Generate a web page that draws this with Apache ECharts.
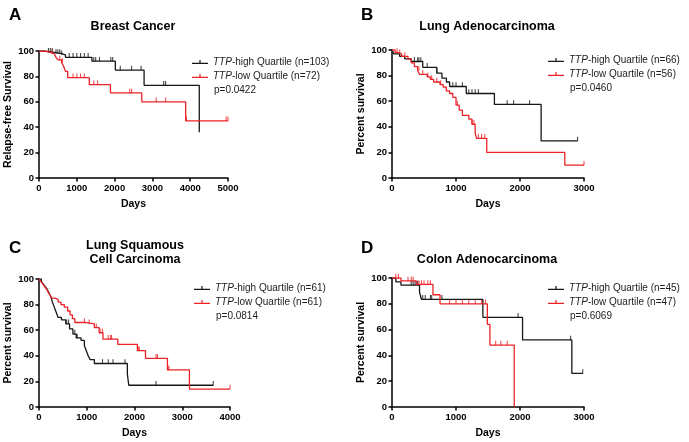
<!DOCTYPE html>
<html><head><meta charset="utf-8">
<script src="https://cdn.jsdelivr.net/npm/echarts@6/dist/echarts.min.js"></script>
<style>html,body{margin:0;padding:0;background:#fff}#c{width:689px;height:442px}</style>
</head><body><div id="c"></div>
<script>
// ---- Panel A: Breast Cancer (Relapse-free survival) ----
const aHighCurve = [[0,100],[150,99],[400,98],[600,97],[700,95],[1400,92],[2020,85],[2780,73],[4240,36]];
const aHighCens = [250,300,350,450,500,550,600,800,900,1000,1100,1200,1300,1450,1500,1600,1900,1950,2150,2450,2700,3300,3350];
const aLowCurve = [[0,100],[150,99],[300,98],[400,97],[450,95],[500,93],[600,91],[650,88],[700,84],[760,79],[1330,73.5],[1890,67],[2720,60],[3880,45],[5000,45]];
const aLowCens = [350,550,620,900,1000,1100,1200,1450,1550,2400,2450,3100,3350,3900,4950,5000];
// ---- Panel B: Lung Adenocarcinoma ----
const bHighCurve = [[0,100],[30,97],[120,95],[200,93],[300,91],[480,86.5],[700,82],[780,78],[850,75],[900,71.5],[1160,66],[1600,57.5],[2330,29],[2900,29]];
const bHighCens = [350,400,420,450,550,700,950,1000,1100,1200,1250,1300,1350,1800,1900,2150,2900];
const bLowCurve = [[0,100],[50,98],[100,97],[150,95],[250,93],[300,90],[350,87],[400,84],[430,81],[550,79],[600,77],[650,75],[750,73],[800,71],[850,68],[900,66],[950,63],[1000,57],[1050,53],[1100,49],[1200,46],[1250,42],[1300,35],[1320,31],[1480,20],[2700,10],[3000,10]];
const bLowCens = [80,120,200,420,480,560,620,700,760,850,1020,1250,1280,1350,1400,1450,3000];
// ---- Panel C: Lung Squamous Cell Carcinoma ----
const cHighCurve = [[0,100],[50,98],[90,96],[130,94],[170,92],[210,89],[250,86],[280,82],[310,79],[340,76],[370,73],[400,70],[470,68],[560,65],[640,61],[710,57],[780,54],[880,52],[950,48],[990,44],[1030,40],[1070,37],[1160,34],[1850,26],[1880,17],[3650,17]];
const cHighCens = [580,620,750,800,1330,1450,1550,1800,2450,3650];
const cLowCurve = [[0,100],[40,98],[80,96],[120,94],[160,92],[200,89],[240,87],[270,85],[330,84],[400,82],[460,80],[530,78],[600,75],[650,72],[700,69],[750,66],[990,65],[1160,62],[1260,58],[1340,53],[1650,49],[2060,44],[2230,38],[2690,29],[3150,14],[4000,14]];
const cLowCens = [950,1050,1200,1280,1330,1450,1500,1520,2080,2100,2450,2480,2700,2720,4000];
// ---- Panel D: Colon Adenocarcinoma ----
const dHighCurve = [[0,100],[60,97],[140,94.5],[430,89],[460,83.5],[1420,69.5],[2040,52],[2810,26],[2980,26]];
const dHighCens = [300,330,360,400,480,520,600,620,780,1970,2790,2980];
const dLowCurve = [[0,100],[140,97.7],[380,95],[640,87],[750,80],[1490,64],[1530,48],[1910,0]];
const dLowCens = [60,100,250,300,330,420,460,500,560,600,900,1000,1100,1200,1300,1400,1460,1620,1700,1800];

const panelLetters = ['A','B','C','D'];
const panelTitles = ['Breast Cancer','Lung Adenocarcinoma','Lung Squamous\nCell Carcinoma','Colon Adenocarcinoma'];
const yNames = ['Relapse-free Survival','Percent survival','Percent survival','Percent survival'];
const xMaxes = [5000,3000,4000,3000];
const highNames = ['TTP-high Quartile (n=103)','TTP-high Quartile (n=66)','TTP-high Quartile (n=61)','TTP-high Quartile (n=45)'];
const lowNames = ['TTP-low Quartile (n=72)','TTP-low Quartile (n=56)','TTP-low Quartile (n=61)','TTP-low Quartile (n=47)'];
const pValues = ['p=0.0422','p=0.0460','p=0.0814','p=0.6069'];

const curves = [[aHighCurve,aLowCurve],[bHighCurve,bLowCurve],[cHighCurve,cLowCurve],[dHighCurve,dLowCurve]];
const censors = [[aHighCens,aLowCens],[bHighCens,bLowCens],[cHighCens,cLowCens],[dHighCens,dLowCens]];

// layout
const grids = [
  {left:39, top:51, width:189, height:127},
  {left:392, top:50, width:192, height:128},
  {left:39, top:279, width:191, height:128},
  {left:392, top:278, width:192, height:129}
];
const letterPos = [[4,2],[356,2],[4,235],[356,235]];
const titlePos = [[133,20],[487,20],[135,239],[487,253]];
const legendPos = [[192,56],[548,54],[194,282],[548,282]];
const pPos = [[214,90],[570,88],[216,316],[570,316]];

const FONT = '"Liberation Sans", Arial, Helvetica, sans-serif';
const BLACK = '#161616', RED = '#ec2227';

function survAt(curve, t){ let s = curve[0][1]; for (const p of curve){ if (p[0] <= t) s = p[1]; } return s; }

const option = {animation:false, backgroundColor:'#fff', grid:[], xAxis:[], yAxis:[], series:[], legend:[], title:[], graphic:[]};
const legendIcon = 'path://M0,4.2L16,4.2L16,5.6L0,5.6Z M7.4,1.5L8.6,1.5L8.6,5L7.4,5Z';

for (let i=0;i<4;i++){
  option.grid.push(Object.assign({containLabel:false}, grids[i]));
  const axisCommon = {
    axisLine:{show:true, onZero:false, lineStyle:{color:'#000', width:1.5}},
    axisTick:{show:true, length:3.5, lineStyle:{color:'#000', width:1.5}},
    axisLabel:{color:'#000', fontFamily:FONT, fontWeight:'bold', fontSize:9.5, formatter: v => String(v)},
    splitLine:{show:false},
    nameTextStyle:{color:'#000', fontFamily:FONT, fontWeight:'bold', fontSize:10.5}
  };
  option.xAxis.push(Object.assign({}, axisCommon, {type:'value', gridIndex:i, min:0, max:xMaxes[i], interval:1000,
    name:'Days', nameLocation:'middle', nameGap:21, axisLabel:Object.assign({}, axisCommon.axisLabel, {margin:5})}));
  option.yAxis.push(Object.assign({}, axisCommon, {type:'value', gridIndex:i, min:0, max:100, interval:20,
    name:yNames[i], nameLocation:'middle', nameGap:25, axisLabel:Object.assign({}, axisCommon.axisLabel, {margin:5})}));

  const cols = [BLACK, RED];
  const names = [highNames[i], lowNames[i]];
  for (let k=0;k<2;k++){
    option.series.push({type:'line', name:names[k], xAxisIndex:i, yAxisIndex:i, step:'end', data:curves[i][k],
      showSymbol:false, symbol:'none', lineStyle:{color:cols[k], width:1.3}, itemStyle:{color:cols[k]}, z:3+k});
    option.series.push({type:'scatter', name:'censor'+i+'_'+k, xAxisIndex:i, yAxisIndex:i,
      data:censors[i][k].map(t => [t, survAt(curves[i][k], t)]),
      symbol:'rect', symbolSize:[1.1,4.5], symbolOffset:[0,-2], itemStyle:{color:cols[k]}, silent:true, z:3+k});
  }
  option.legend.push({left:legendPos[i][0], top:legendPos[i][1], orient:'vertical', itemWidth:16, itemHeight:7, itemGap:2,
    padding:0, selectedMode:false,
    data:[{name:highNames[i], icon:legendIcon},{name:lowNames[i], icon:legendIcon}],
    formatter: n => '{i|TTP}' + n.slice(3),
    textStyle:{color:'#222', fontFamily:FONT, fontSize:10, lineHeight:12,
      rich:{i:{fontStyle:'italic', fontFamily:FONT, fontSize:10, color:'#222'}}}});
  option.title.push({text:panelLetters[i], left:letterPos[i][0], top:letterPos[i][1],
    textStyle:{fontFamily:FONT, fontWeight:'bold', fontSize:17, color:'#000'}});
  option.graphic.push({type:'text', x:titlePos[i][0], y:titlePos[i][1],
    style:{text:panelTitles[i], fontFamily:FONT, fontWeight:'bold', fontSize:12.5, fill:'#000', textAlign:'center', textVerticalAlign:'top', lineHeight:14}});
  option.graphic.push({type:'text', x:pPos[i][0], y:pPos[i][1],
    style:{text:pValues[i], fontFamily:FONT, fontSize:10, fill:'#222', textAlign:'left', textVerticalAlign:'middle'}});
}

const chart = echarts.init(document.getElementById('c'), null, {renderer:'canvas'});
chart.setOption(option);
</script></body></html>
